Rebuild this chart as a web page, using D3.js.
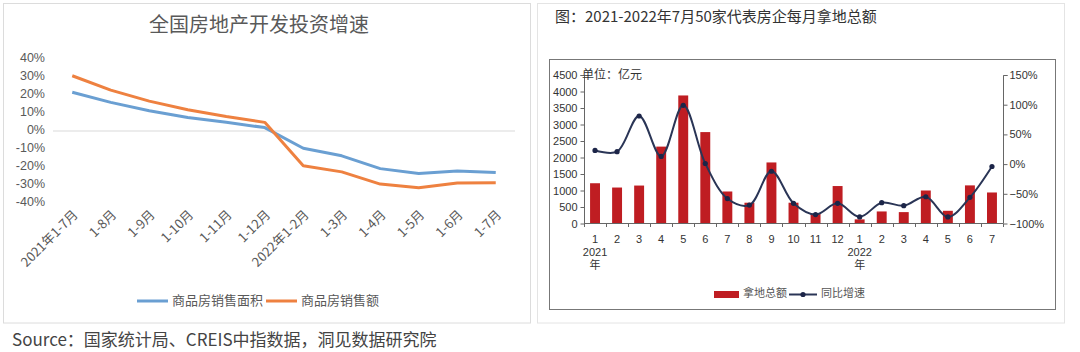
<!DOCTYPE html>
<html>
<head>
<meta charset="utf-8">
<script src="https://cdn.jsdelivr.net/npm/d3@7"></script>
<style>
  html, body { margin: 0; padding: 0; background: #fff; }
  svg { display: block; font-family: "Liberation Sans", "Noto Sans CJK SC", sans-serif; }
</style>
</head>
<body>
<div class="canvas"></div>
<script>
// ---- left chart data
const periods = ['2021年1-7月', '1-8月', '1-9月', '1-10月', '1-11月', '1-12月',
  '2022年1-2月', '1-3月', '1-4月', '1-5月', '1-6月', '1-7月'];
const salesArea = [21.5, 15.9, 11.3, 7.5, 4.8, 1.9, -9.6, -13.8, -20.9, -23.6, -22.2, -23.1];
const salesAmount = [30.7, 22.7, 16.6, 11.8, 8.0, 4.8, -19.3, -22.7, -29.5, -31.5, -28.9, -28.8];
const pctTicks = [40, 30, 20, 10, 0, -10, -20, -30, -40];

// ---- right chart data
const months = ['1', '2', '3', '4', '5', '6', '7', '8', '9', '10', '11', '12',
  '1', '2', '3', '4', '5', '6', '7'];
const yearLabels = ['2021', '', '', '', '', '', '', '', '', '', '', '',
  '2022', '', '', '', '', '', ''];
const landAmount = [1220, 1090, 1150, 2330, 3880, 2770, 970, 630, 1850, 630, 285, 1135,
  125, 365, 345, 1000, 385, 1155, 940];
const landYoy = [23, 21, 81, 13, 99, 1, -58, -69, -12, -66, -85, -66,
  -89, -65, -70, -55, -89, -56, -4];
const amountTicks = [0, 500, 1000, 1500, 2000, 2500, 3000, 3500, 4000, 4500];
const yoyTicks = [-100, -50, 0, 50, 100, 150];
const yoyTickLabels = ['−100%', '−50%', '0%', '50%', '100%', '150%'];

const svg = d3.select('.canvas')
  .append('svg')
  .attr('width', 1080)
  .attr('height', 352);

// panel frames
svg.append('rect')
  .attr('x', 3.5).attr('y', 3.5).attr('width', 527).attr('height', 319.5)
  .attr('fill', 'none').attr('stroke', '#dcdcdc');
svg.append('rect')
  .attr('x', 537.5).attr('y', 3.5).attr('width', 527).attr('height', 319.5)
  .attr('fill', 'none').attr('stroke', '#e4e4e4');

/* ---------------- left: 全国房地产开发投资增速 ---------------- */
const left = svg.append('g');

left.append('text')
  .attr('x', 259).attr('y', 27)
  .attr('text-anchor', 'middle').attr('dominant-baseline', 'middle')
  .attr('font-size', 20).attr('fill', '#595959')
  .attr('font-family', '"Noto Sans CJK SC", sans-serif')
  .text('全国房地产开发投资增速');

const x = d3.scalePoint()
  .domain(periods)
  .range([53, 515])
  .padding(0.5);

const y = d3.scaleLinear()
  .domain([-40, 40])
  .range([203, 59]);

left.append('line')
  .attr('x1', 53).attr('x2', 515)
  .attr('y1', y(0)).attr('y2', y(0))
  .attr('stroke', '#d9d9d9');

left.selectAll('.ytick')
  .data(pctTicks)
  .enter().append('text')
  .attr('x', 45).attr('y', d => y(d))
  .attr('text-anchor', 'end').attr('dominant-baseline', 'middle')
  .attr('font-size', 12.5).attr('fill', '#595959')
  .text(d => d + '%');

left.selectAll('.xlabel')
  .data(periods)
  .enter().append('text')
  .attr('transform', d => `translate(${x(d) + 4}, 213) rotate(-45)`)
  .attr('text-anchor', 'end').attr('dominant-baseline', 'middle')
  .attr('font-size', 13).attr('fill', '#595959')
  .attr('font-family', '"Noto Sans CJK SC", sans-serif')
  .text(d => d);

const leftLine = d3.line()
  .x((d, i) => x(periods[i]))
  .y(d => y(d));

const leftSeries = [
  { name: '商品房销售面积', values: salesArea, color: '#6a9fd2' },
  { name: '商品房销售额', values: salesAmount, color: '#ee8140' }
];

leftSeries.forEach(s => {
  left.append('path')
    .attr('d', leftLine(s.values))
    .attr('fill', 'none')
    .attr('stroke', s.color)
    .attr('stroke-width', 3)
    .attr('stroke-linejoin', 'round');
});

// legend
const legendX = [137, 266];
leftSeries.forEach((s, i) => {
  left.append('line')
    .attr('x1', legendX[i]).attr('x2', legendX[i] + 31)
    .attr('y1', 301).attr('y2', 301)
    .attr('stroke', s.color).attr('stroke-width', 3);
  left.append('text')
    .attr('x', legendX[i] + 35).attr('y', 301)
    .attr('dominant-baseline', 'middle')
    .attr('font-size', 13).attr('fill', '#595959')
    .attr('font-family', '"Noto Sans CJK SC", sans-serif')
    .text(s.name);
});

svg.append('text')
  .attr('x', 12).attr('y', 341)
  .attr('dominant-baseline', 'middle')
  .attr('font-size', 17).attr('fill', '#444')
  .attr('font-family', '"Noto Sans CJK SC", sans-serif')
  .text('Source：国家统计局、CREIS中指数据，洞见数据研究院');

/* ---------------- right: 50家代表房企每月拿地总额 ---------------- */
const right = svg.append('g');

right.append('text')
  .attr('x', 555).attr('y', 18)
  .attr('dominant-baseline', 'middle')
  .attr('font-size', 15).attr('fill', '#333')
  .attr('font-family', '"Noto Sans CJK SC", sans-serif')
  .text('图：2021-2022年7月50家代表房企每月拿地总额');

right.append('rect')
  .attr('x', 549.5).attr('y', 59.5).attr('width', 506).attr('height', 250)
  .attr('fill', 'none').attr('stroke', '#777');

const bx = d3.scaleBand()
  .domain(d3.range(months.length))
  .range([584, 1003])
  .paddingInner(0.55)
  .paddingOuter(0.275);

const yAmt = d3.scaleLinear().domain([0, 4500]).range([223.5, 75]);
const yPct = d3.scaleLinear().domain([-100, 150]).range([223.5, 75]);

right.selectAll('.bar')
  .data(landAmount)
  .enter().append('rect')
  .attr('x', (d, i) => bx(i))
  .attr('y', d => yAmt(d))
  .attr('width', bx.bandwidth())
  .attr('height', d => yAmt(0) - yAmt(d))
  .attr('fill', '#bf1d22');

const yoyLine = d3.line()
  .x((d, i) => bx(i) + bx.bandwidth() / 2)
  .y(d => yPct(d))
  .curve(d3.curveCatmullRom.alpha(0.5));

right.append('path')
  .attr('d', yoyLine(landYoy))
  .attr('fill', 'none')
  .attr('stroke', '#2a3556')
  .attr('stroke-width', 2);

right.selectAll('.dot')
  .data(landYoy)
  .enter().append('circle')
  .attr('cx', (d, i) => bx(i) + bx.bandwidth() / 2)
  .attr('cy', d => yPct(d))
  .attr('r', 2.6)
  .attr('fill', '#1c2548');

// axes
const leftAxis = d3.axisLeft(yAmt)
  .tickValues(amountTicks)
  .tickFormat(d => String(d))
  .tickSize(4)
  .tickPadding(3);
const rightAxis = d3.axisRight(yPct)
  .tickValues(yoyTicks)
  .tickFormat((d, i) => yoyTickLabels[i])
  .tickSize(4)
  .tickPadding(2);

const styleAxis = g => {
  g.select('.domain').attr('stroke', '#666');
  g.selectAll('.tick line').attr('stroke', '#666');
  g.selectAll('.tick text')
    .attr('fill', '#333')
    .attr('font-size', 11)
    .attr('font-family', '"Liberation Sans", sans-serif');
};

right.append('g')
  .attr('transform', 'translate(584.5, 0)')
  .call(leftAxis)
  .call(g => g.select('.domain').attr('d', 'M-4,75.5H0V223.5'))
  .call(styleAxis);

right.append('g')
  .attr('transform', 'translate(1003.5, 0)')
  .call(rightAxis)
  .call(g => g.select('.domain').attr('d', 'M4,75.5H0V223.5'))
  .call(styleAxis);

// bottom axis: line with ticks at the band boundaries
const boundaries = d3.range(months.length + 1).map(i => 584 + i * bx.step());
right.append('line')
  .attr('x1', 584).attr('x2', 1003)
  .attr('y1', 223.5).attr('y2', 223.5)
  .attr('stroke', '#666');
right.selectAll('.btick')
  .data(boundaries)
  .enter().append('line')
  .attr('x1', d => Math.round(d) + 0.5).attr('x2', d => Math.round(d) + 0.5)
  .attr('y1', 223.5).attr('y2', 227)
  .attr('stroke', '#666');

right.selectAll('.month')
  .data(months)
  .enter().append('text')
  .attr('x', (d, i) => bx(i) + bx.bandwidth() / 2)
  .attr('y', 240)
  .attr('text-anchor', 'middle').attr('dominant-baseline', 'middle')
  .attr('font-size', 11).attr('fill', '#333')
  .text(d => d);

const yearIdx = yearLabels.map((d, i) => i).filter(i => yearLabels[i] !== '');
yearIdx.forEach(i => {
  const cx = bx(i) + bx.bandwidth() / 2;
  right.append('text')
    .attr('x', cx).attr('y', 253)
    .attr('text-anchor', 'middle').attr('dominant-baseline', 'middle')
    .attr('font-size', 11).attr('fill', '#333')
    .text(yearLabels[i]);
  right.append('text')
    .attr('x', cx).attr('y', 266)
    .attr('text-anchor', 'middle').attr('dominant-baseline', 'middle')
    .attr('font-size', 11).attr('fill', '#333')
    .attr('font-family', '"Noto Sans CJK SC", sans-serif')
    .text('年');
});

right.append('text')
  .attr('x', 582).attr('y', 76)
  .attr('dominant-baseline', 'middle')
  .attr('font-size', 12).attr('fill', '#333')
  .attr('font-family', '"Noto Sans CJK SC", sans-serif')
  .text('单位：亿元');

// legend
right.append('rect')
  .attr('x', 714).attr('y', 291).attr('width', 25).attr('height', 7)
  .attr('fill', '#bf1d22');
right.append('text')
  .attr('x', 743).attr('y', 294.5)
  .attr('dominant-baseline', 'middle')
  .attr('font-size', 11).attr('fill', '#555')
  .attr('font-family', '"Noto Sans CJK SC", sans-serif')
  .text('拿地总额');
right.append('line')
  .attr('x1', 789).attr('x2', 817).attr('y1', 294.5).attr('y2', 294.5)
  .attr('stroke', '#2a3556').attr('stroke-width', 2);
right.append('circle')
  .attr('cx', 803).attr('cy', 294.5).attr('r', 2.6).attr('fill', '#1c2548');
right.append('text')
  .attr('x', 821).attr('y', 294.5)
  .attr('dominant-baseline', 'middle')
  .attr('font-size', 11).attr('fill', '#555')
  .attr('font-family', '"Noto Sans CJK SC", sans-serif')
  .text('同比增速');
</script>
</body>
</html>
